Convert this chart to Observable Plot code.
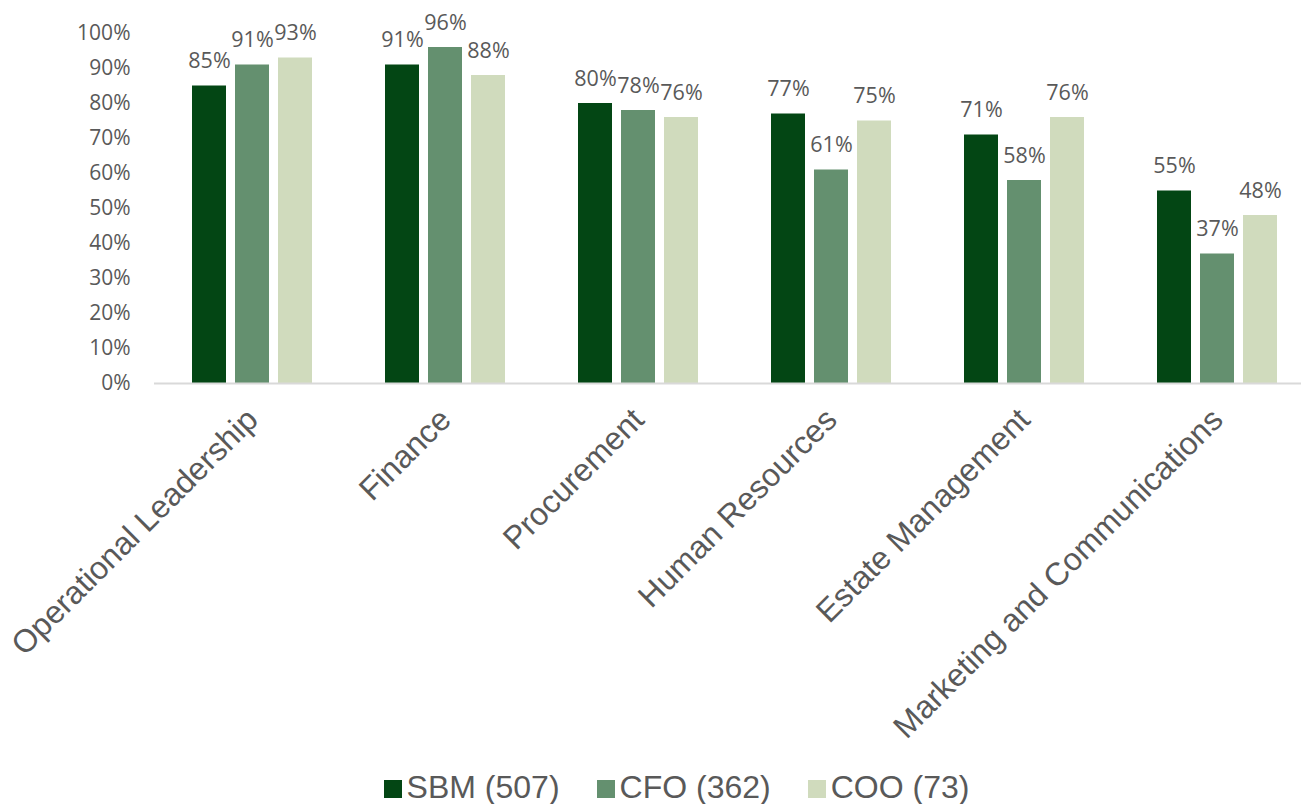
<!DOCTYPE html>
<html>
<head>
<meta charset="utf-8">
<script src="https://cdn.jsdelivr.net/npm/d3@7"></script>
<script src="https://cdn.jsdelivr.net/npm/@observablehq/plot@0.6"></script>
<style>
  html, body { margin: 0; padding: 0; background: #fff; }
  #chart { position: relative; width: 1301px; height: 804px; }
  #chart svg { overflow: visible; display: block; }
  .legend { display: flex; justify-content: center; align-items: center; padding-left: 52px; margin-top: 9px;
            font: 32px "Liberation Sans", Arial, sans-serif; color: #595959; line-height: 36px; }
  .legend .item { display: flex; align-items: center; margin-right: 37px; }
  .legend .item:last-child { margin-right: 0; }
  .legend .sw { width: 18px; height: 18px; margin-right: 5px; margin-top: 4px; }
</style>
</head>
<body>
<div id="chart"></div>
<script>
// Functional areas surveyed
const categories = [
  "Operational Leadership",
  "Finance",
  "Procurement",
  "Human Resources",
  "Estate Management",
  "Marketing and Communications"
];

// Respondent groups and their colours
const seriesNames = ["SBM (507)", "CFO (362)", "COO (73)"];
const seriesColors = ["#034614", "#64906f", "#d0dbbd"];

// Share of respondents per area, in percent
const sbm = [85, 91, 80, 77, 71, 55];
const cfo = [91, 96, 78, 61, 58, 37];
const coo = [93, 88, 76, 75, 76, 48];

const yTicks = [0, 10, 20, 30, 40, 50, 60, 70, 80, 90, 100];

const seriesValues = [sbm, cfo, coo];
const offsets = [-43, 0, 43]; // bar spacing within each group

const numFont = "'Open Sans', sans-serif";
const labelFont = "'Liberation Sans', Arial, sans-serif";
const textColor = "#595959";

const marks = [];
seriesValues.forEach((vals, i) => {
  const rows = categories.map((c, j) => ({category: c, value: vals[j] / 100, series: seriesNames[i]}));
  marks.push(
    Plot.barY(rows, {x: "category", y: "value", fill: seriesColors[i], dx: offsets[i]}),
    Plot.text(rows, {
      x: "category", y: "value", dx: offsets[i], dy: -18,
      text: d => Math.round(d.value * 100) + "%",
      lineAnchor: "bottom", fontSize: 21.5, fontFamily: numFont, fill: textColor
    })
  );
});

const chart = Plot.plot({
  width: 1301,
  height: 760,
  marginTop: 33,
  marginBottom: 377,
  marginLeft: 154,
  marginRight: 0,
  x: {domain: categories, range: [154, 1314], paddingInner: 0.824, paddingOuter: 0.412, label: null},
  y: {domain: [0, 1], label: null},
  marks: [
    ...marks,
    Plot.ruleY([0], {stroke: "#d9d9d9", strokeWidth: 2}),
    Plot.axisY(yTicks.map(t => t / 100), {
      tickSize: 0, tickPadding: 24, tickFormat: d => Math.round(d * 100) + "%",
      fontSize: 21, fontFamily: numFont, fill: textColor, label: null
    }),
    Plot.axisX({
      tickSize: 0, tickPadding: 31, tickRotate: -45,
      fontSize: 32, fontFamily: labelFont, fill: textColor, label: null
    })
  ]
});

const root = document.getElementById("chart");
root.appendChild(chart);

// Legend below the chart
const legend = document.createElement("div");
legend.className = "legend";
seriesNames.forEach((name, i) => {
  const item = document.createElement("span");
  item.className = "item";
  const sw = document.createElement("span");
  sw.className = "sw";
  sw.style.background = seriesColors[i];
  const label = document.createElement("span");
  label.textContent = name;
  item.appendChild(sw);
  item.appendChild(label);
  legend.appendChild(item);
});
root.appendChild(legend);
</script>
</body>
</html>
